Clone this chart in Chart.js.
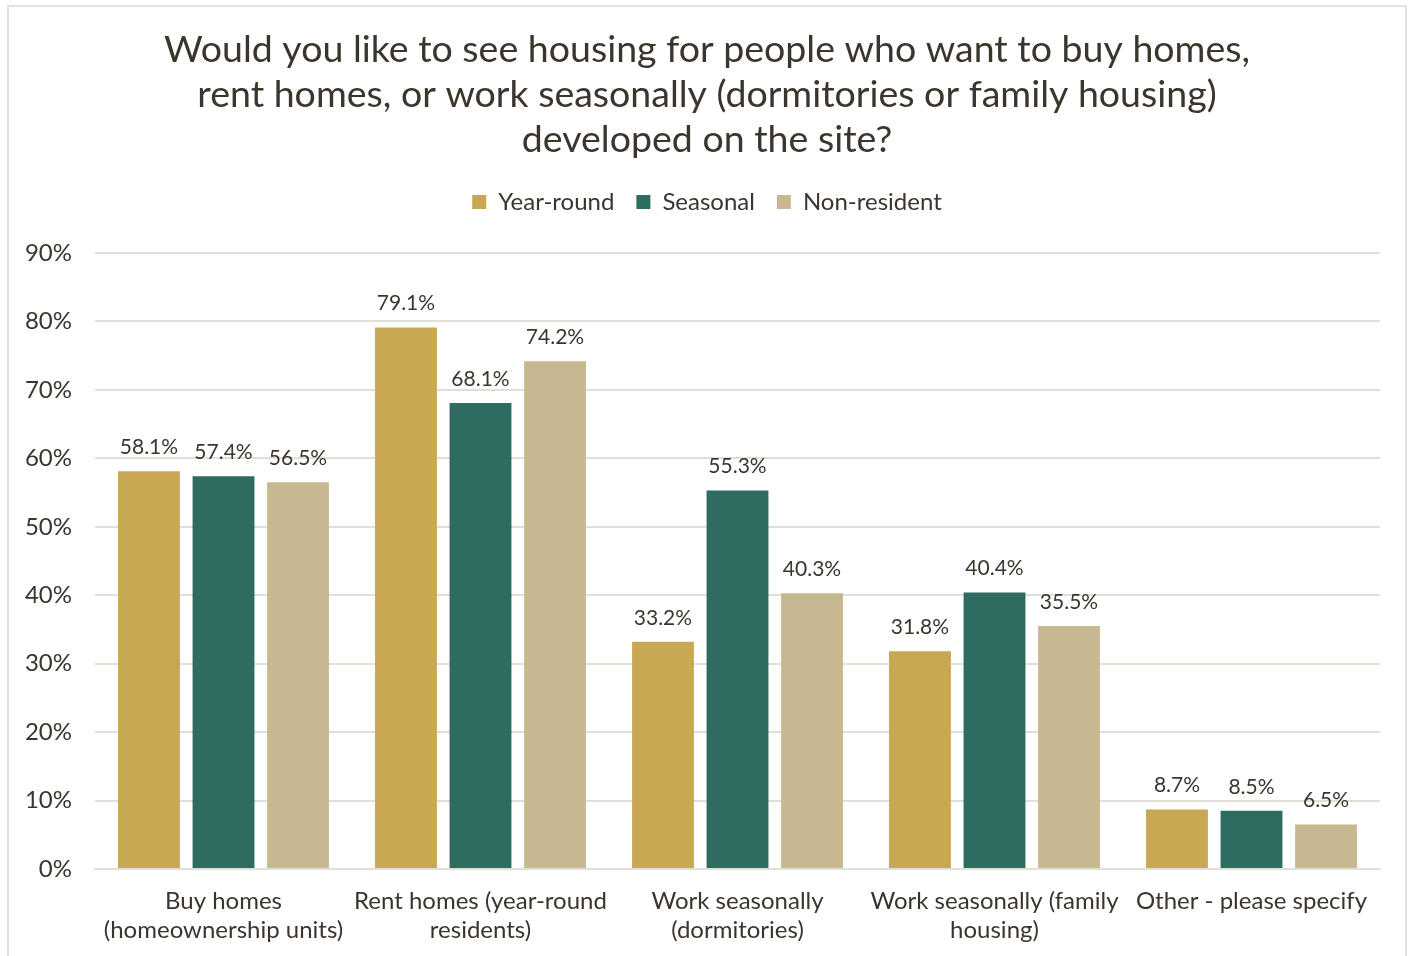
<!DOCTYPE html>
<html>
<head>
<meta charset="utf-8">
<script src="https://cdn.jsdelivr.net/npm/chart.js@4"></script>
<style>
  html, body { margin: 0; padding: 0; background: #ffffff; }
  #wrap { position: relative; width: 1414px; height: 956px; overflow: hidden; }
  #frame { position: absolute; left: 7px; top: 5px; width: 1400px; height: 960px;
           border: 2px solid #e4e2dc; box-sizing: border-box; }
  canvas { position: absolute; left: 0; top: 0; }
</style>
</head>
<body>
<div id="wrap">
  <div id="frame"></div>
  <canvas id="chart" width="1414" height="956"></canvas>
</div>
<script>
// survey answers, percent of each group
var categories = [
    ["Buy homes", "(homeownership units)"],
    ["Rent homes (year-round", "residents)"],
    ["Work seasonally", "(dormitories)"],
    ["Work seasonally (family", "housing)"],
    "Other - please specify"
];
var yearRound   = [58.1, 79.1, 33.2, 31.8, 8.7];
var seasonal    = [57.4, 68.1, 55.3, 40.4, 8.5];
var nonResident = [56.5, 74.2, 40.3, 35.5, 6.5];
var yTicks = [0, 10, 20, 30, 40, 50, 60, 70, 80, 90];

var textColor = "#3b352d";
var gridColor = "#e2dfd7";

// value labels above every bar
var barLabels = {
    id: "barLabels",
    afterDatasetsDraw: function(chart)
    {
        var ctx = chart.ctx;
        ctx.save();
        ctx.font = "21px Lato";
        ctx.fillStyle = textColor;
        ctx.textAlign = "center";
        ctx.textBaseline = "middle";
        chart.data.datasets.forEach(function(ds, i)
        {
            chart.getDatasetMeta(i).data.forEach(function(bar, j)
            {
                ctx.fillText(ds.data[j].toFixed(1) + "%", bar.x, bar.y - 24);
            });
        });
        ctx.restore();
    }
};

// more room under the legend, and title + legend centred on the whole canvas
var headerLayout = {
    id: "headerLayout",
    beforeInit: function(chart)
    {
        var fit = chart.legend.fit;
        chart.legend.fit = function()
        {
            fit.bind(chart.legend)();
            this.height += 29;
        };
    },
    afterLayout: function(chart)
    {
        chart.titleBlock.left = 34;
        chart.legend.left = 34;
    }
};

Chart.defaults.font.family = "Lato";
Chart.defaults.color = textColor;

new Chart(document.getElementById("chart"), {
    type: "bar",
    data: {
        labels: categories,
        datasets: [
            { label: "Year-round",   data: yearRound,   backgroundColor: "#c9a853" },
            { label: "Seasonal",     data: seasonal,    backgroundColor: "#2e6b61" },
            { label: "Non-resident", data: nonResident, backgroundColor: "#c8b890" }
        ]
    },
    options: {
        responsive: false,
        animation: false,
        categoryPercentage: 0.87,
        barPercentage: 0.83,
        layout: { padding: { top: 17, left: 0, right: 34, bottom: 0 } },
        plugins: {
            title: {
                display: true,
                text: [
                    "Would you like to see housing for people who want to buy homes,",
                    "rent homes, or work seasonally (dormitories or family housing)",
                    "developed on the site?"
                ],
                font: { size: 37.5, weight: "normal", lineHeight: 1.2 },
                color: textColor,
                padding: { top: 10, bottom: 6 }
            },
            legend: {
                position: "top",
                labels: {
                    font: { size: 24 },
                    color: textColor,
                    boxWidth: 14,
                    boxHeight: 14,
                    padding: 22
                }
            },
            tooltip: { enabled: false }
        },
        scales: {
            x: {
                grid: { display: false, drawTicks: false },
                border: { color: gridColor, width: 2 },
                afterFit: function(scale) { scale.height = 87; },
                ticks: { font: { size: 24, lineHeight: 1.2 }, color: textColor, padding: 18, maxRotation: 0, autoSkip: false }
            },
            y: {
                min: 0,
                max: yTicks[yTicks.length - 1],
                afterBuildTicks: function(axis)
                {
                    axis.ticks = yTicks.map(function(v) { return { value: v }; });
                },
                afterFit: function(scale) { scale.width = 95; },
                grid: { color: gridColor, lineWidth: 2, drawTicks: false },
                border: { display: false },
                ticks: {
                    font: { size: 24 },
                    color: textColor,
                    padding: 23,
                    callback: function(v) { return v + "%"; }
                }
            }
        }
    },
    plugins: [barLabels, headerLayout]
});
</script>
</body>
</html>
